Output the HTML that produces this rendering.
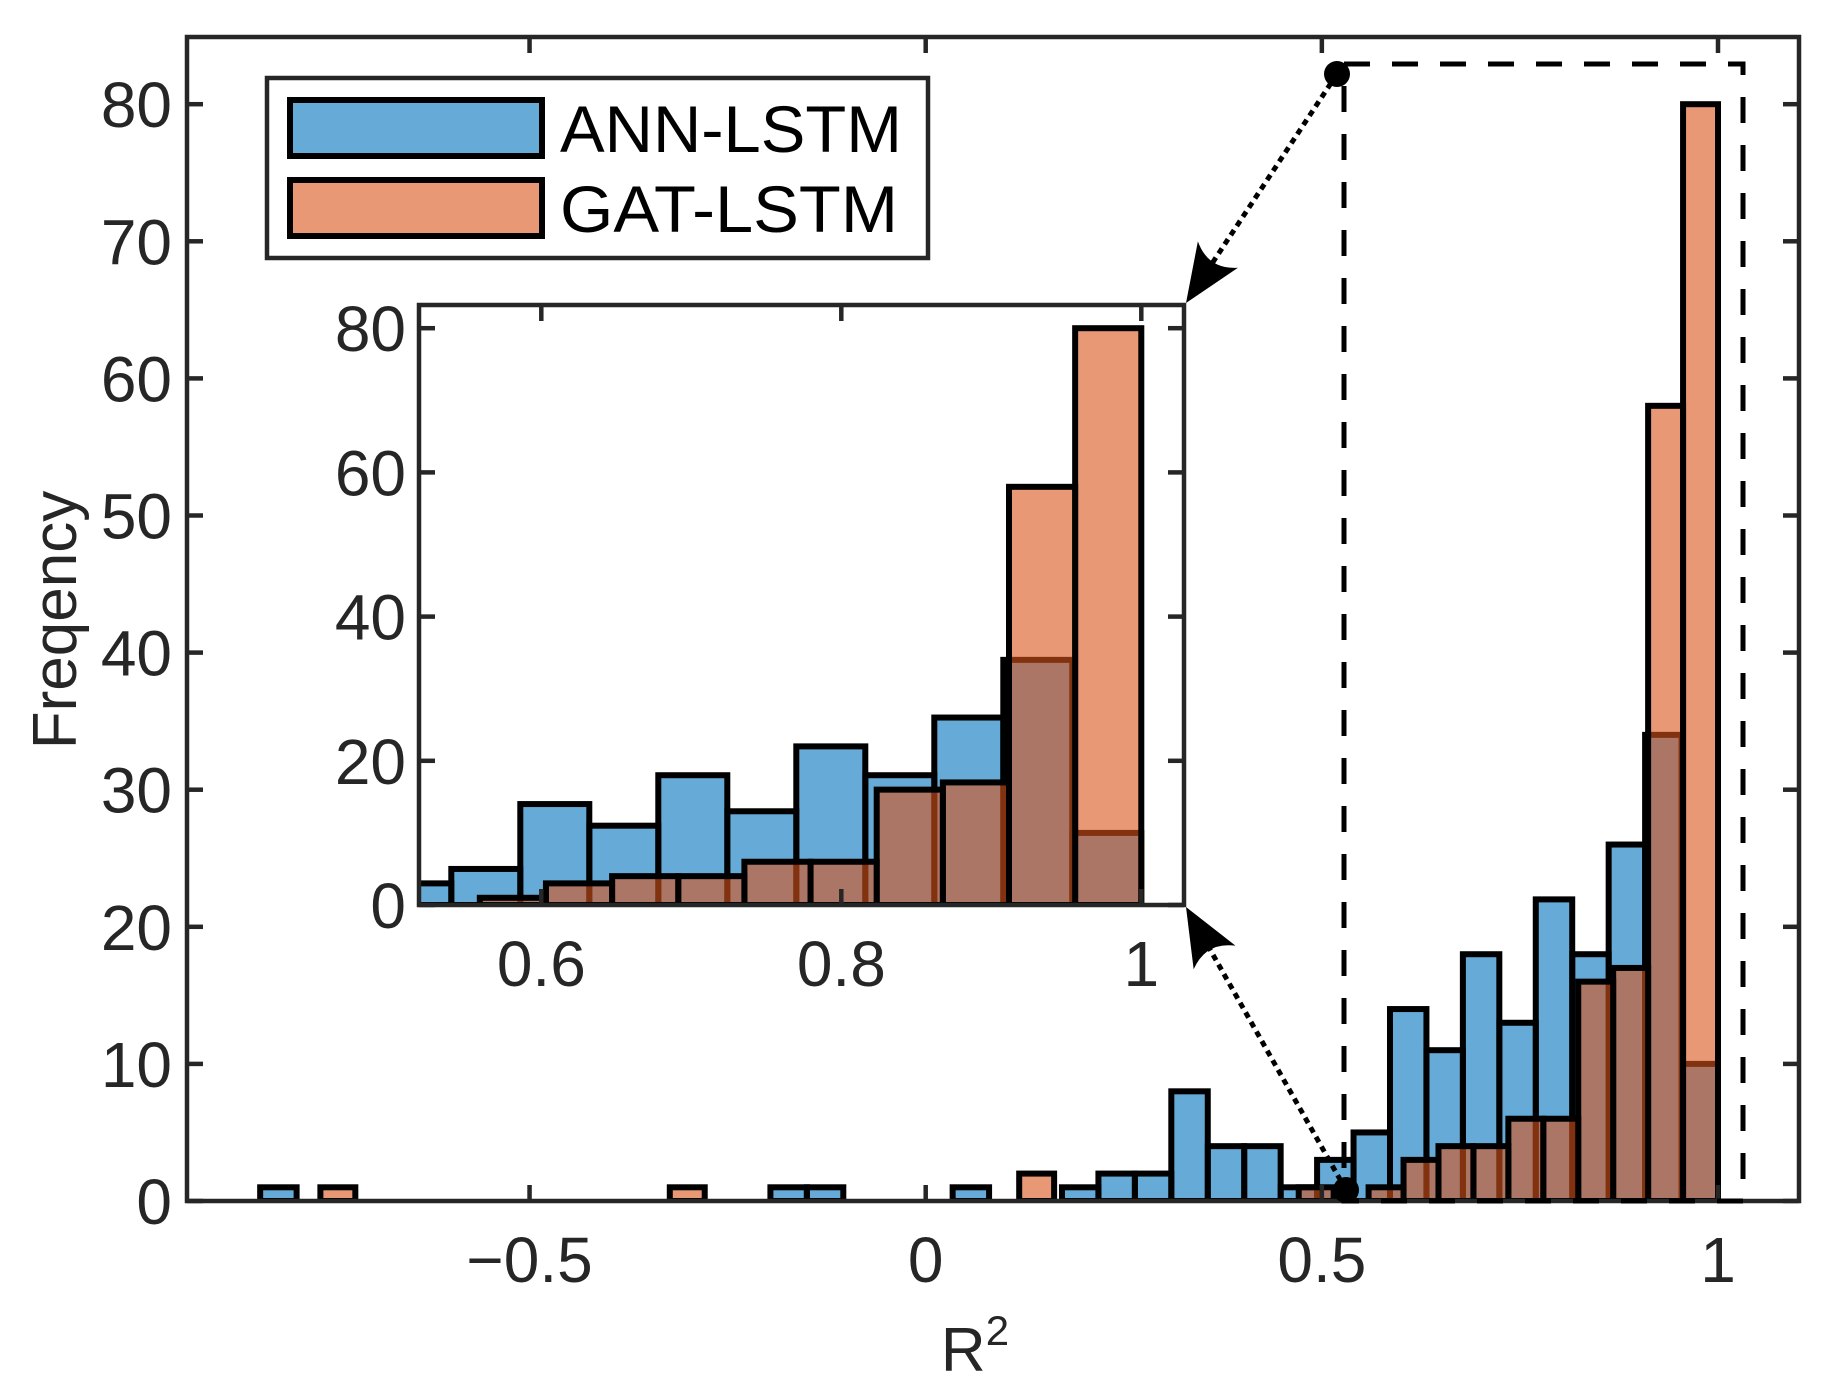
<!DOCTYPE html>
<html><head><meta charset="utf-8"><style>
html,body{margin:0;padding:0;background:#fff}
svg{display:block;font-family:"Liberation Sans",Arial,sans-serif}
</style></head><body>
<svg id="chart" width="1826" height="1400" viewBox="0 0 1826 1400" xmlns="http://www.w3.org/2000/svg">
<defs>
<clipPath id="mainClip"><rect x="187" y="37" width="1612" height="1164"/></clipPath>
<clipPath id="insetClip"><rect x="419" y="305" width="765" height="600"/></clipPath>
</defs>
<g id="main-bars" clip-path="url(#mainClip)"></g>
<g id="main-axes"></g>
<g id="zoom-box"></g>
<rect x="419" y="305" width="765" height="600" fill="#fff"/>
<g id="inset-bars" clip-path="url(#insetClip)"></g>
<g id="inset-axes"></g>
<g id="arrows"></g>
<g>
<rect x="267" y="78" width="661" height="180" fill="#fff" stroke="#262626" stroke-width="4.5"/>
<rect x="290" y="100" width="252" height="56" fill="rgb(102,170,215)" stroke="#000" stroke-width="6"/>
<rect x="290" y="180" width="252" height="56" fill="rgb(232,152,117)" stroke="#000" stroke-width="6"/>
<text x="560" y="152" font-size="66" textLength="342" lengthAdjust="spacingAndGlyphs" fill="#000">ANN-LSTM</text>
<text x="560" y="232" font-size="66" textLength="338" lengthAdjust="spacingAndGlyphs" fill="#000">GAT-LSTM</text>
</g>
<text x="0" y="0" font-size="62" fill="#262626" text-anchor="middle" transform="translate(76,620) rotate(-90)">Freqency</text>
<text x="975" y="1371" font-size="62" fill="#262626" text-anchor="middle">R<tspan dy="-26" font-size="42">2</tspan></text>
</svg>
<script>
const annCounts = [10,34,26,18,22,13,18,11,14,5,3,1,4,4,8,2,2,1,0,0,1,0,0,0,1,1,0,0,0,0,0,0,0,0,0,0,0,0,0,1];
const gatCounts = [80,58,17,16,6,6,4,4,3,1,0,1,0,0,0,0,0,0,0,2,0,0,0,0,0,0,0,0,0,1,0,0,0,0,0,0,0,0,0,1];
const annBinWidth = 0.046;
const gatBinWidth = 0.0441;
const binTop = 1.0;
const mainXTicks = [-0.5, 0, 0.5, 1];
const mainXLabels = ["\u22120.5", "0", "0.5", "1"];
const mainYTicks = [0,10,20,30,40,50,60,70,80];
const insetXTicks = [0.6, 0.8, 1];
const insetXLabels = ["0.6", "0.8", "1"];
const insetYTicks = [0,20,40,60,80];

const NS = "http://www.w3.org/2000/svg";
function mk(tag, attrs, parent){const e=document.createElementNS(NS,tag);for(const k in attrs)e.setAttribute(k,attrs[k]);parent.appendChild(e);return e;}
const mx = v => 925.7 + v*792.3;
const my = v => 1201 - v*13.71;
const ix = v => 541.3 + (v-0.6)*1500;
const iy = v => 905 - v*7.21;

function drawBars(g, counts, w, xf, yf, fill, sw, prefix){
  counts.forEach((c,k)=>{
    if(c<=0) return;
    const hi = binTop - w*k, lo = hi - w;
    const r = mk('rect',{x:xf(lo),y:yf(c),width:xf(hi)-xf(lo),height:yf(0)-yf(c),fill:fill,'fill-opacity':0.6,stroke:'#000','stroke-width':sw},g);
    
    
  });
}
const mb = document.getElementById('main-bars');
drawBars(mb, annCounts, annBinWidth, mx, my, 'rgb(0,114,189)', 6, 'ann');
drawBars(mb, gatCounts, gatBinWidth, mx, my, 'rgb(217,83,25)', 6, 'gat');
const ib = document.getElementById('inset-bars');
drawBars(ib, annCounts, annBinWidth, ix, iy, 'rgb(0,114,189)', 6, 'inset-ann');
drawBars(ib, gatCounts, gatBinWidth, ix, iy, 'rgb(217,83,25)', 6, 'inset-gat');

function drawAxes(g, L, R, T, B, xt, xl, yt, xf, yf, fs, xlabY, ylabX, prefix){
  const f = mk('rect',{x:L,y:T,width:R-L,height:B-T,fill:'none',stroke:'#262626','stroke-width':4.5},g);
  
  
  xt.forEach((v,i)=>{
    const x=xf(v);
    mk('line',{x1:x,y1:B,x2:x,y2:B-16,stroke:'#262626','stroke-width':4.5},g);
    mk('line',{x1:x,y1:T,x2:x,y2:T+16,stroke:'#262626','stroke-width':4.5},g);
    const t = mk('text',{x:x,y:xlabY,'font-size':fs,'text-anchor':'middle',fill:'#262626'},g);
    t.textContent = xl[i];
    
    
  });
  yt.forEach(v=>{
    const y=yf(v);
    mk('line',{x1:L,y1:y,x2:L+16,y2:y,stroke:'#262626','stroke-width':4.5},g);
    mk('line',{x1:R,y1:y,x2:R-16,y2:y,stroke:'#262626','stroke-width':4.5},g);
    const t = mk('text',{x:ylabX,y:y+23,'font-size':fs,'text-anchor':'end',fill:'#262626'},g);
    t.textContent = String(v);
    
    
  });
}
drawAxes(document.getElementById('main-axes'),187,1799,37,1201,mainXTicks,mainXLabels,mainYTicks,mx,my,64,1282,172,'main');
drawAxes(document.getElementById('inset-axes'),419,1184,305,905,insetXTicks,insetXLabels,insetYTicks,ix,iy,64,986,406,'inset');

// zoom box
const zb = document.getElementById('zoom-box');
mk('rect',{x:1344,y:64,width:399,height:1137,fill:'none',stroke:'#000','stroke-width':5,'stroke-dasharray':'26 22'},zb);

// arrows
const ar = document.getElementById('arrows');
function arrow(x1,y1,x2,y2,name){
  const dx=x2-x1, dy=y2-y1, L=Math.hypot(dx,dy), ux=dx/L, uy=dy/L, px=-uy, py=ux;
  const bx=x2-ux*58, by=y2-uy*58;
  const l = mk('line',{x1:x1,y1:y1,x2:bx+ux*20,y2:by+uy*20,stroke:'#000','stroke-width':5,'stroke-dasharray':'6 5'},ar);
  
  
  const p = mk('path',{d:`M${x2},${y2} L${bx+px*24},${by+py*24} Q${bx+ux*18},${by+uy*18} ${bx-px*24},${by-py*24} Z`,fill:'#000'},ar);
  
  
  const c = mk('circle',{cx:x1,cy:y1,r:13,fill:'#000'},ar);
  
  
}
arrow(1337,74,1186,303,'top-arrow');
arrow(1346,1190,1186,907,'bottom-arrow');
</script>
</body></html>
